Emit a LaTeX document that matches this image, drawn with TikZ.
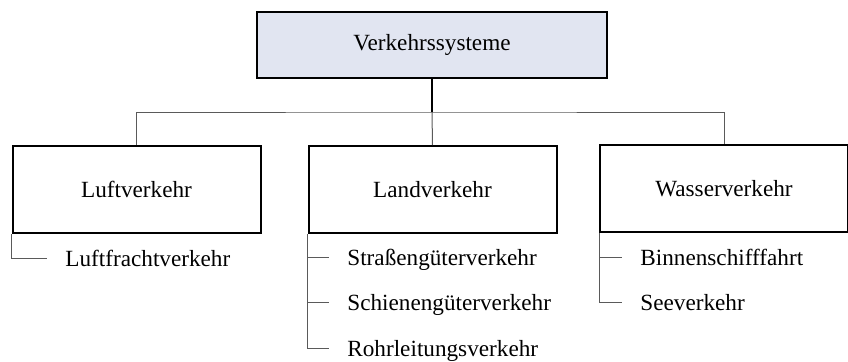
\documentclass[tikz,border=0pt]{standalone}
\usepackage{fontspec}
\setmainfont{Liberation Serif}
\usepackage{xcolor}
\definecolor{headfill}{HTML}{E1E5F1}
\definecolor{linkgray}{HTML}{5A5A5A}

\begin{document}
\begin{tikzpicture}[x=0.5pt,y=-0.5pt,font=\fontsize{11.6}{14}\selectfont,
  box/.style={rectangle,draw,line width=1pt,minimum width=124pt,minimum height=43.5pt},
  item/.style={anchor=west,inner xsep=9pt,inner ysep=0pt,text height=9pt,text depth=1pt},
  link/.style={draw=linkgray,line width=0.5pt}]
\useasboundingbox (0,0) rectangle (848,361);

\node [box,fill=headfill,minimum width=175pt,minimum height=33pt] (sys) at (432,45) {Verkehrssysteme};
\node [box] (luft) at (136.5,189.5) {Luftverkehr};
\node [box] (land) at (432.5,189.5) {Landverkehr};
\node [box] (wasser) at (724,188.5) {Wasserverkehr};
\coordinate (hub) at (432,112);

\node [item] (fracht) at (47,258) {Luftfrachtverkehr};
\node [item] (strasse) at (329,257) {Straßengüterverkehr};
\node [item] (schiene) at (329,302) {Schienengüterverkehr};
\node [item] (rohr) at (329,348) {Rohrleitungsverkehr};
\node [item] (binnen) at (622,257) {Binnenschifffahrt};
\node [item] (see) at (622,302) {Seeverkehr};

\draw [line width=1pt] (sys.south) -- (hub);
\draw [link] (luft.north) |- (hub) -| (wasser.north);
\draw [link] (hub) -- (land.north);

\draw [link] (luft.south west) |- (fracht.west);
\draw [link] (land.south west) |- (rohr.west);
\draw [link] (land.south west |- strasse) -- (strasse.west);
\draw [link] (land.south west |- schiene) -- (schiene.west);
\draw [link] (wasser.south west) |- (see.west);
\draw [link] (wasser.south west |- binnen) -- (binnen.west);
\end{tikzpicture}
\end{document}
